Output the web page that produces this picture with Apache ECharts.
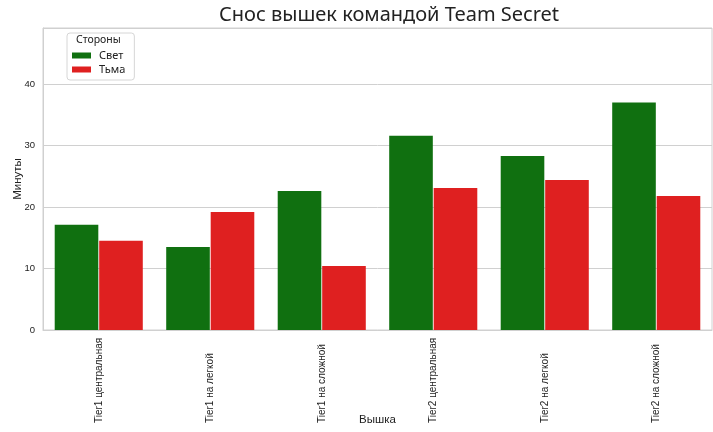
<!DOCTYPE html>
<html>
<head>
<meta charset="utf-8">
<script src="https://cdn.jsdelivr.net/npm/echarts@6/dist/echarts.min.js"></script>
<style>
  html, body { margin: 0; padding: 0; background: #fff; }
  #chart { width: 713px; height: 432px; }
</style>
</head>
<body>
<div id="chart"></div>
<script>
var towers = ['Tier1 центральная', 'Tier1 на легкой', 'Tier1 на сложной',
  'Tier2 центральная', 'Tier2 на легкой', 'Tier2 на сложной'];
var lightSide = [17.1, 13.5, 22.6, 31.6, 28.3, 37.0];
var darkSide = [14.5, 19.2, 10.4, 23.1, 24.4, 21.8];
var yTicks = [0, 10, 20, 30, 40];

var colors = ['#107010', '#df2020'];
var fontMain = 'Liberation Sans, Arial, sans-serif';

var chart = echarts.init(document.getElementById('chart'));

var option = {
  backgroundColor: '#fff',
  animation: false,
  color: colors,
  title: {
    text: 'Снос вышек командой Team Secret',
    left: 384,
    textAlign: 'center',
    top: 0,
    textStyle: {
      fontFamily: 'Noto Sans, Open Sans, sans-serif',
      fontSize: 20,
      fontWeight: 'normal',
      color: '#222'
    }
  },
  graphic: [{
    type: 'text',
    left: 76,
    top: 35,
    style: {
      text: 'Стороны',
      fontFamily: 'Noto Sans, sans-serif',
      fontSize: 10.5,
      fill: '#222'
    }
  }],
  legend: {
    left: 67,
    top: 33,
    orient: 'vertical',
    padding: [17, 9, 5, 5],
    itemWidth: 19,
    itemHeight: 6,
    itemGap: 3,
    icon: 'rect',
    borderColor: '#d6d6d6',
    borderWidth: 1,
    borderRadius: 3,
    textStyle: {
      fontFamily: 'Noto Sans, sans-serif',
      fontSize: 11,
      color: '#222',
      padding: [0, 0, 0, 3]
    },
    data: ['Свет', 'Тьма']
  },
  grid: {
    left: 43,
    right: 1,
    top: 28,
    bottom: 102,
    show: true,
    borderColor: '#d0d0d0',
    borderWidth: 1,
    outerBoundsMode: 'none',
    containLabel: false
  },
  xAxis: {
    type: 'category',
    data: towers,
    name: 'Вышка',
    nameLocation: 'middle',
    nameGap: 84,
    nameMoveOverlap: false,
    nameTextStyle: { fontFamily: fontMain, fontSize: 11.5, color: '#222' },
    axisLine: { show: true, lineStyle: { color: '#d0d0d0' } },
    axisTick: { show: false },
    axisLabel: {
      rotate: 90,
      align: 'left',
      margin: 93,
      fontFamily: fontMain,
      fontSize: 10,
      color: '#222'
    }
  },
  yAxis: {
    type: 'value',
    min: 0,
    max: 49.1,
    interval: 10,
    name: 'Минуты',
    nameLocation: 'middle',
    nameGap: 19,
    nameMoveOverlap: false,
    nameTextStyle: { fontFamily: fontMain, fontSize: 11.5, color: '#222' },
    axisLine: { show: true, lineStyle: { color: '#d0d0d0' } },
    axisTick: { show: false },
    splitLine: { lineStyle: { color: '#d0d0d0', width: 1 } },
    axisLabel: {
      margin: 8,
      fontFamily: fontMain,
      fontSize: 9.5,
      color: '#222',
      formatter: function (v) { return yTicks.indexOf(v) >= 0 ? String(v) : ''; }
    }
  },
  series: [{
    name: 'Свет',
    type: 'bar',
    data: lightSide,
    barGap: '2%',
    barCategoryGap: '21%'
  }, {
    name: 'Тьма',
    type: 'bar',
    data: darkSide,
    barGap: '2%',
    barCategoryGap: '21%'
  }]
};

chart.setOption(option);
</script>
</body>
</html>
